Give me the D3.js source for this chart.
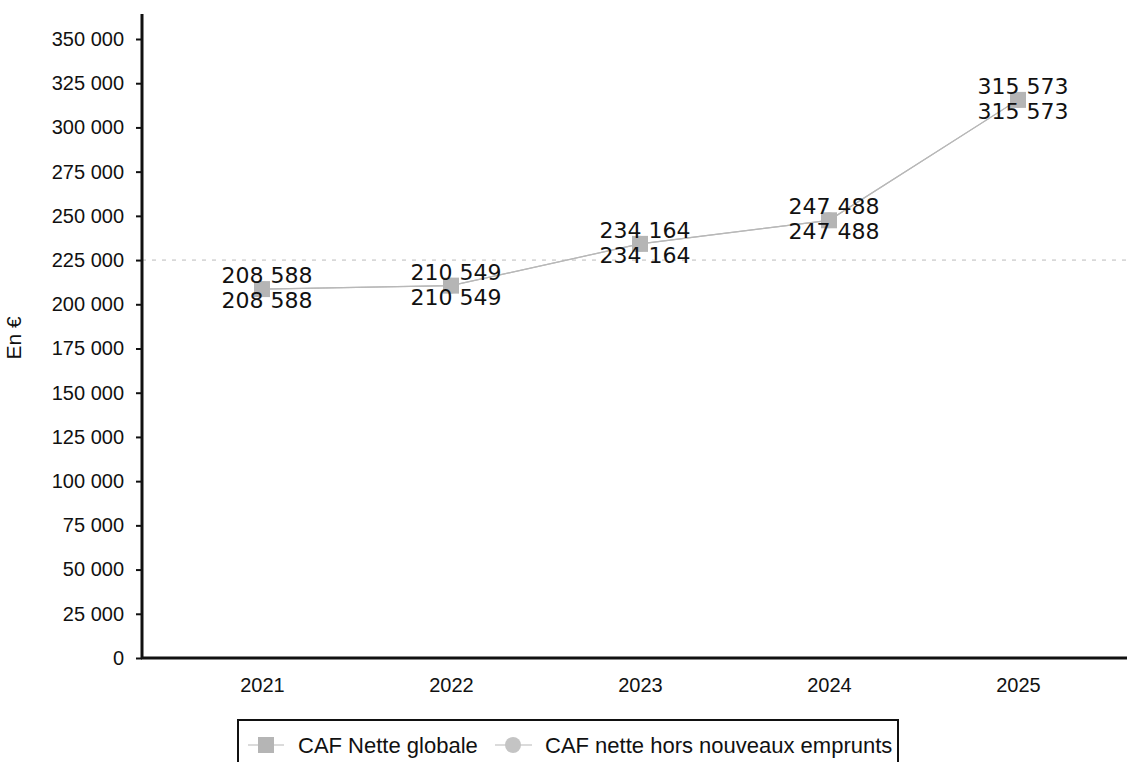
<!DOCTYPE html>
<meta charset='utf-8'>
<style>
html, body {
  margin: 0;
  padding: 0;
  background: #fff;
}
svg text {
  font-family: 'Liberation Sans', Arial, sans-serif;
  fill: #111;
}
.val {
  font-family: 'DejaVu Sans', sans-serif;
  font-size: 22px;
}
</style>
<body>
<div id='container'></div>
<script src='https://cdnjs.cloudflare.com/ajax/libs/d3/7.8.5/d3.min.js'></script>
<script>

var years = ['2021', '2022', '2023', '2024', '2025'];
var cafNetteGlobale = [208588, 210549, 234164, 247488, 315573];
var cafHorsEmprunts = [208588, 210549, 234164, 247488, 315573];
var yTicks = [0, 25000, 50000, 75000, 100000, 125000, 150000, 175000, 200000,
              225000, 250000, 275000, 300000, 325000, 350000];
var refLine = 225000;
var seriesNames = ['CAF Nette globale', 'CAF nette hors nouveaux emprunts'];

var W = 1127, H = 762;
var svg = d3.select('#container').append('svg')
    .attr('width', W)
    .attr('height', H);

var axisX = 142, axisY = 658;

var x = d3.scalePoint().domain(years).range([262, 1018]);
var y = d3.scaleLinear().domain([0, 350000]).range([axisY, 39]);

var fmt = function(v) {
  return d3.format(',')(v).replace(/,/g, ' ');
};

// dashed line at 225 000
svg.append('line')
  .attr('x1', axisX).attr('x2', W)
  .attr('y1', y(refLine)).attr('y2', y(refLine))
  .attr('stroke', '#bbb')
  .attr('stroke-width', 1)
  .attr('stroke-dasharray', '4,6');

// y axis
var yAxis = d3.axisLeft(y)
  .tickValues(yTicks)
  .tickSize(6)
  .tickPadding(12)
  .tickFormat(fmt);

var gy = svg.append('g')
  .attr('transform', 'translate(' + axisX + ',0)')
  .call(yAxis);
gy.select('.domain').remove();
gy.selectAll('.tick line').attr('stroke', '#111').attr('stroke-width', 2);
gy.selectAll('.tick text')
  .style('font-size', '20px')
  .style('font-family', "'Liberation Sans', Arial, sans-serif")
  .attr('fill', '#111');

svg.append('line')
  .attr('x1', axisX).attr('x2', axisX)
  .attr('y1', 14).attr('y2', axisY + 1)
  .attr('stroke', '#111').attr('stroke-width', 3);

// x axis
var xAxis = d3.axisBottom(x).tickSize(0).tickPadding(20);
var gx = svg.append('g')
  .attr('transform', 'translate(0,' + axisY + ')')
  .call(xAxis);
gx.select('.domain').remove();
gx.selectAll('.tick text')
  .style('font-size', '20px')
  .style('font-family', "'Liberation Sans', Arial, sans-serif")
  .attr('fill', '#111');

svg.append('line')
  .attr('x1', axisX - 1).attr('x2', W)
  .attr('y1', axisY).attr('y2', axisY)
  .attr('stroke', '#111').attr('stroke-width', 3);

// y label
svg.append('text')
  .attr('transform', 'translate(21,338) rotate(-90)')
  .attr('text-anchor', 'middle')
  .style('font-size', '21px')
  .text('En €');

// lines
var line = d3.line()
  .x(function(d, i) { return x(years[i]); })
  .y(function(d) { return y(d); });

[cafNetteGlobale, cafHorsEmprunts].forEach(function(s) {
  svg.append('path')
    .attr('d', line(s))
    .attr('fill', 'none')
    .attr('stroke', '#b8b8b8')
    .attr('stroke-width', 1.2);
});

// markers
svg.selectAll('circle.m2')
  .data(cafHorsEmprunts)
  .enter().append('circle')
  .attr('class', 'm2')
  .attr('cx', function(d, i) { return x(years[i]); })
  .attr('cy', function(d) { return y(d); })
  .attr('r', 8)
  .attr('fill', '#c4c4c4');

svg.selectAll('rect.m1')
  .data(cafNetteGlobale)
  .enter().append('rect')
  .attr('class', 'm1')
  .attr('x', function(d, i) { return x(years[i]) - 8; })
  .attr('y', function(d) { return y(d) - 8; })
  .attr('width', 16).attr('height', 16)
  .attr('fill', '#b5b5b5');

// value labels
svg.selectAll('text.v1')
  .data(cafNetteGlobale)
  .enter().append('text')
  .attr('class', 'val')
  .attr('text-anchor', 'middle')
  .attr('x', function(d, i) { return x(years[i]) + 5; })
  .attr('y', function(d) { return y(d) - 6; })
  .text(fmt);

svg.selectAll('text.v2')
  .data(cafHorsEmprunts)
  .enter().append('text')
  .attr('class', 'val')
  .attr('text-anchor', 'middle')
  .attr('x', function(d, i) { return x(years[i]) + 5; })
  .attr('y', function(d) { return y(d) + 19; })
  .text(fmt);

// legend
var lg = svg.append('g');
lg.append('rect')
  .attr('x', 238).attr('y', 720)
  .attr('width', 660).attr('height', 60)
  .attr('fill', '#fff')
  .attr('stroke', '#111').attr('stroke-width', 2);

var ly = 745;
lg.append('line').attr('x1', 248).attr('x2', 284).attr('y1', ly).attr('y2', ly)
  .attr('stroke', '#b8b8b8').attr('stroke-width', 1.2);
lg.append('rect').attr('x', 258).attr('y', ly - 8).attr('width', 16).attr('height', 16)
  .attr('fill', '#b5b5b5');
lg.append('text').attr('x', 298).attr('y', ly + 8)
  .style('font-size', '22px').text(seriesNames[0]);

lg.append('line').attr('x1', 495).attr('x2', 532).attr('y1', ly).attr('y2', ly)
  .attr('stroke', '#b8b8b8').attr('stroke-width', 1.2);
lg.append('circle').attr('cx', 513).attr('cy', ly).attr('r', 8)
  .attr('fill', '#c4c4c4');
lg.append('text').attr('x', 545).attr('y', ly + 8)
  .style('font-size', '22px').text(seriesNames[1]);

</script>
